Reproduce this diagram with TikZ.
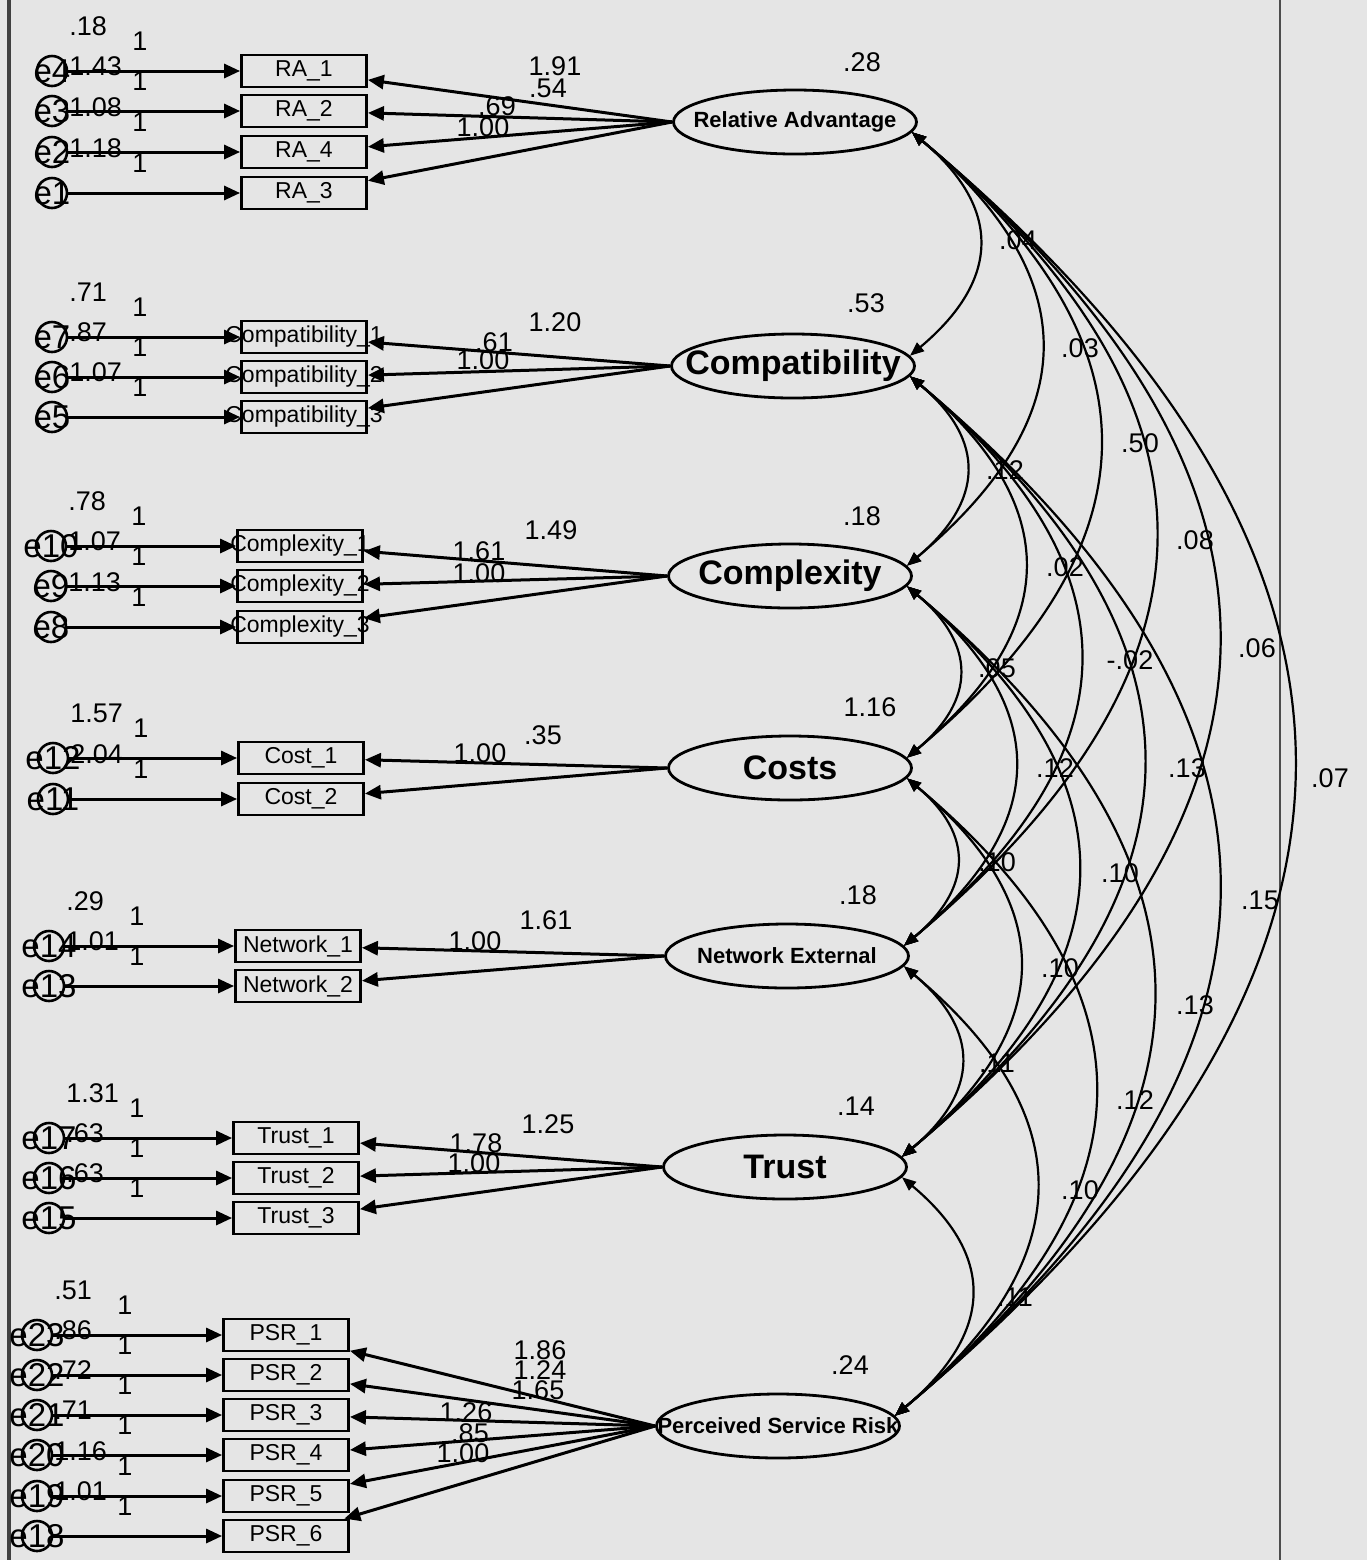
\documentclass[tikz,border=0pt]{standalone}
\usepackage{fontspec}
\setmainfont{Liberation Sans}
\usetikzlibrary{arrows.meta,shapes.geometric}
\definecolor{paper}{RGB}{229,229,229}
\tikzset{pin/.style={-{Triangle[length=8pt,width=7pt]}, line width=1.5pt},
  cov/.style={{Triangle[length=7pt,width=5.5pt]}-{Triangle[length=7pt,width=5.5pt]}, line width=1.1pt},
  obs/.style={draw, line width=1.4pt, minimum width=62.5pt, minimum height=16pt, inner sep=0pt,
    label={[font=\fontsize{11.5}{12}\selectfont]center:#1}},
  err/.style={circle, draw, line width=1.3pt, minimum size=15pt, inner sep=0pt,
    label={[font=\fontsize{16.5}{17}\selectfont]center:#1}},
  lat/.style={ellipse, draw, line width=1.4pt, minimum width=121.5pt, minimum height=32pt, inner sep=0pt},
  latbig/.style={label={[font=\bfseries\fontsize{17}{18}\selectfont]center:#1}},
  latsmall/.style={label={[font=\bfseries\fontsize{11}{12}\selectfont]center:#1}},
  num/.style={font=\fontsize{13.5}{14}\selectfont, inner sep=0pt}}

\begin{document}
\begin{tikzpicture}[x=0.5pt, y=-0.5pt]
  \useasboundingbox (0,0) rectangle (1367,1560);
  \fill[paper] (0,0) rectangle (1367,1560);
  \draw[line width=1.6pt, black!75] (9,0) -- (9,1560);
  \draw[line width=0.8pt, black!70] (1280,0) -- (1280,1560);
  % latent factors
  \node[lat, latsmall=Relative Advantage] (ra) at (795,122) {};
  \node[lat, latbig=Compatibility] (cp) at (793,366) {};
  \node[lat, latbig=Complexity] (cx) at (790,576) {};
  \node[lat, latbig=Costs] (co) at (790,768) {};
  \node[lat, latsmall=Network External] (nw) at (787,956) {};
  \node[lat, latbig=Trust] (tr) at (785,1167) {};
  \node[lat, latsmall=Perceived Service Risk] (ps) at (778,1426) {};
  \foreach \fa/\x/\y/\v in {ra/862/62/.28, cp/866/303/.53, cx/862/516/.18, co/870/707/1.16,
      nw/858/895/.18, tr/856/1106/.14, ps/850/1365/.24}
    \node[num] (v\fa) at (\x,\y) {\v};
  % indicators with their error terms
  \foreach \lt/\ex/\bxx/\yy/\er/\bx/\lab/\var in {ra/52/304/71/e4/ra1/RA\_1/.18,
      ra/52/304/111/e3/ra2/RA\_2/1.43, ra/52/304/152/e2/ra4/RA\_4/1.08, ra/52/304/193/e1/ra3/RA\_3/1.18,
      cp/52/304/337/e7/cp1/Compatibility\_1/.71, cp/52/304/377/e6/cp2/Compatibility\_2/.87,
      cp/52/304/417/e5/cp3/Compatibility\_3/1.07,
      cx/51/300/546/e10/cx1/Complexity\_1/.78, cx/51/300/586/e9/cx2/Complexity\_2/1.07,
      cx/51/300/627/e8/cx3/Complexity\_3/1.13,
      co/53/301/758/e12/co1/Cost\_1/1.57, co/53/301/799/e11/co2/Cost\_2/2.04,
      nw/49/298/946/e14/nw1/Network\_1/.29, nw/49/298/986/e13/nw2/Network\_2/1.01,
      tr/49/296/1138/e17/tr1/Trust\_1/1.31, tr/49/296/1178/e16/tr2/Trust\_2/.63,
      tr/49/296/1218/e15/tr3/Trust\_3/.63,
      ps/37/286/1335/e23/ps1/PSR\_1/.51, ps/37/286/1375/e22/ps2/PSR\_2/.86,
      ps/37/286/1415/e21/ps3/PSR\_3/.72, ps/37/286/1455/e20/ps4/PSR\_4/.71,
      ps/37/286/1496/e19/ps5/PSR\_5/1.16, ps/37/286/1536/e18/ps6/PSR\_6/1.01} {
    \node[err=\er] (\er) at (\ex,\yy) {};
    \node[obs=\lab] (\bx) at (\bxx,\yy) {};
    \node[num, anchor=west] (v\er) at (\ex+17,\yy-45) {\var};
    \node[num] (w\er) at (\ex+88,\yy-30) {1};
    \draw[pin] (\er) -- (\bx);
    \draw[pin] (\lt.west) -- (\bx);
  }
  % loadings
  \foreach \x/\y/\v [count=\i] in {555/66/1.91, 548/88/.54, 497/106/.69, 483/127/1.00,
      555/322/1.20, 494/342/.61, 483/360/1.00, 551/530/1.49, 479/551/1.61, 479/573/1.00,
      543/735/.35, 480/753/1.00, 546/920/1.61, 475/941/1.00,
      548/1124/1.25, 476/1143/1.78, 474/1163/1.00,
      540/1350/1.86, 540/1370/1.24, 538/1390/1.65, 466/1412/1.26, 470/1433/.85, 463/1453/1.00}
    \node[num] (l\i) at (\x,\y) {\v};
  % covariances
  \foreach \fa/\fb/\x/\y/\v [count=\i] in {ra/cp/1018/240/.04, ra/cx/1080/348/.03,
      ra/co/1140/443/.50, ra/nw/1195/540/.08, ra/tr/1257/648/.06, ra/ps/1330/778/.07,
      cp/cx/1005/470/.12, cp/co/1065/567/.02, cp/nw/1130/660/-.02, cp/tr/1187/768/.13,
      cp/ps/1260/900/.15, cx/co/997/668/.05, cx/nw/1055/768/.12, cx/tr/1120/873/.10,
      cx/ps/1195/1005/.13, co/nw/997/862/.10, co/tr/1060/968/.10, co/ps/1135/1100/.12,
      nw/tr/997/1063/.11, nw/ps/1080/1190/.10, tr/ps/1015/1297/.11} {
    \draw[cov] (\fa.-5) to[out=-40, in=40, looseness=1.35] (\fb.5);
    \node[num] (c\i) at (\x,\y) {\v};
  }
\end{tikzpicture}
\end{document}
